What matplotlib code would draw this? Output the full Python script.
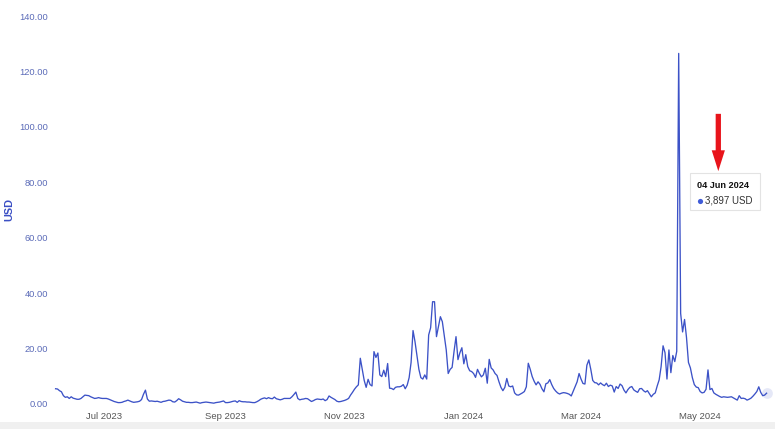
import matplotlib
matplotlib.use("Agg")
import matplotlib.pyplot as plt
import matplotlib.dates as mdates
from matplotlib.patches import Rectangle, FancyBboxPatch
import pandas as pd

# daily values in USD, 6 Jun 2023 .. 4 Jun 2024
jun23 = [5.5, 5.4, 4.8, 4.4, 3.0, 2.4, 2.6, 2.0, 2.6, 2.1, 1.9, 1.7, 1.7, 2.0, 2.6,
         3.2, 3.1, 3.0, 2.6, 2.3, 2.0, 2.1, 2.3, 2.1, 2.0]
jul23 = [2.0, 2.0, 1.8, 1.5, 1.2, 0.9, 0.7, 0.5, 0.5, 0.6, 0.9, 1.1, 1.4, 1.1, 0.8,
         0.6, 0.7, 0.8, 1.0, 1.6, 3.5, 5.0, 1.8, 1.0, 1.1, 1.0, 0.9, 1.0, 0.8, 0.6, 0.9]
aug23 = [1.0, 1.2, 1.4, 1.3, 0.8, 0.7, 1.2, 1.9, 1.5, 1.0, 0.8, 0.6, 0.6, 0.5, 0.5,
         0.6, 0.7, 0.5, 0.3, 0.5, 0.6, 0.7, 0.6, 0.5, 0.4, 0.3, 0.5, 0.6, 0.7, 0.9, 1.1]
sep23 = [0.5, 0.5, 0.6, 0.8, 1.0, 1.1, 0.6, 1.2, 0.9, 0.8, 0.8, 0.7, 0.7, 0.6, 0.5,
         0.5, 0.8, 1.2, 1.7, 2.0, 2.2, 1.9, 2.3, 2.0, 1.9, 2.5, 1.9, 1.7, 1.5, 1.7]
oct23 = [2.0, 2.0, 2.0, 2.0, 2.6, 3.4, 4.3, 2.0, 1.5, 1.7, 1.8, 2.0, 1.9, 1.4, 0.9,
         1.2, 1.6, 1.8, 1.7, 1.6, 1.8, 1.2, 1.6, 2.9, 2.4, 2.0, 1.6, 1.0, 0.8, 0.9, 1.1]
nov23 = [1.3, 1.6, 2.0, 3.2, 4.2, 5.3, 6.2, 6.9, 16.5, 12.5, 8.5, 6.0, 8.9, 7.0, 6.5,
         18.9, 16.8, 18.4, 10.5, 9.9, 12.2, 9.9, 14.6, 5.7, 5.6, 5.2, 6.0, 6.2, 6.2, 6.4]
dec23 = [7.0, 5.5, 6.8, 9.5, 15.0, 26.5, 22.5, 17.5, 12.5, 9.5, 9.0, 10.5, 9.0, 24.9,
         27.5, 36.9, 36.9, 24.3, 27.9, 31.5, 29.7, 24.5, 19.5, 11.0, 12.5, 13.2, 19.0,
         24.3, 16.0, 18.5, 20.3]
jan24 = [14.5, 17.8, 13.5, 12.0, 11.7, 11.0, 9.6, 12.5, 11.0, 9.8, 10.5, 12.9, 7.5,
         16.1, 13.0, 12.3, 11.0, 10.3, 8.0, 6.0, 4.8, 6.0, 9.2, 6.5, 6.2, 6.5, 4.0, 3.3,
         3.2, 3.6, 4.0]
feb24 = [4.5, 6.2, 14.7, 12.5, 9.9, 8.2, 6.9, 8.0, 7.1, 5.5, 4.4, 7.3, 7.6, 8.8, 7.0,
         5.6, 4.7, 4.0, 3.6, 3.9, 4.1, 4.0, 3.8, 3.5, 2.9, 4.6, 6.3, 8.0, 11.0]
mar24 = [9.0, 7.4, 7.2, 14.0, 15.9, 12.5, 8.5, 7.7, 7.6, 6.9, 7.6, 7.0, 6.6, 7.5, 6.3,
         6.8, 6.5, 4.3, 6.3, 5.6, 7.2, 6.6, 5.0, 4.0, 5.2, 6.0, 6.3, 5.1, 4.6, 4.2, 5.5]
apr24 = [5.6, 4.8, 4.3, 4.8, 3.7, 2.6, 3.5, 4.0, 6.5, 8.7, 13.5, 21.0, 18.5, 9.0, 19.5,
         11.3, 17.5, 15.3, 19.0, 126.5, 32.7, 26.0, 30.5, 24.0, 15.0, 13.0, 9.5, 7.0,
         6.1, 5.9]
may24 = [4.5, 4.0, 4.2, 5.3, 12.3, 5.2, 5.6, 4.0, 3.5, 3.1, 2.7, 2.4, 2.6, 2.5, 2.4,
         2.5, 2.6, 2.2, 1.8, 1.4, 3.0, 2.0, 2.1, 1.9, 1.4, 1.7, 2.1, 2.8, 3.6, 4.5, 6.2]
jun24 = [4.2, 3.0, 3.2, 3.897]

values = jun23 + jul23 + aug23 + sep23 + oct23 + nov23 + dec23 + jan24 + feb24 + mar24 + apr24 + may24 + jun24
dates = pd.date_range("2023-06-06", "2024-06-04", freq="D")

tip_date = "04 Jun 2024"
tip_value = "3,897 USD"

line_color = "#3c52c7"
plt.rcParams["font.family"] = ["Liberation Sans", "DejaVu Sans"]

fig = plt.figure(figsize=(7.75, 4.29), dpi=100, facecolor="white")
ax = fig.add_axes([0.0692, 0.0583, 0.9295, 0.9044])

ax.plot(dates, values, color=line_color, lw=0.95, clip_on=False)
# hover halo on the last point
ax.scatter([dates[-1]], [values[-1]], s=60, color=line_color, alpha=0.13, lw=0, clip_on=False)

ax.set_ylim(0, 140)
ax.set_yticks(range(0, 141, 20))
ax.yaxis.set_major_formatter(matplotlib.ticker.FormatStrFormatter("%.2f"))
ax.set_xlim(pd.Timestamp("2023-06-05"), pd.Timestamp("2024-06-07 19:00"))
ax.xaxis.set_major_locator(mdates.MonthLocator(bymonth=[1, 3, 5, 7, 9, 11]))
ax.xaxis.set_major_formatter(mdates.DateFormatter("%b %Y"))

for s in ax.spines.values():
    s.set_visible(False)
ax.tick_params(axis="y", length=0, pad=4, labelsize=6.7, labelcolor="#5b6bb8")
ax.tick_params(axis="x", length=0, pad=6, labelsize=6.8, labelcolor="#555555")

ax.set_ylabel("USD", fontsize=7.8, fontweight="bold", color="#3b4fc4")
ax.yaxis.set_label_coords(-0.054, 0.5)

# tooltip box
box = FancyBboxPatch((0.8835, 0.50), 0.097, 0.095, boxstyle="square,pad=0",
                     transform=ax.transAxes, facecolor="white", edgecolor="#e3e3e3",
                     lw=0.8, clip_on=False, zorder=5)
ax.add_patch(box)
ax.text(0.9296, 0.562, tip_date, transform=ax.transAxes, ha="center", va="center",
        fontsize=6.6, fontweight="bold", color="#111111", zorder=6)
ax.scatter([0.8968], [0.524], s=14, color="#3f5bd8", lw=0, transform=ax.transAxes,
           zorder=6, clip_on=False)
ax.text(0.9045, 0.524, tip_value, transform=ax.transAxes, ha="left", va="center",
        fontsize=7, color="#333333", zorder=6)

# red arrow above the tooltip
ax.annotate("", xy=(0.9227, 0.593), xytext=(0.9227, 0.755), xycoords="axes fraction",
            arrowprops=dict(arrowstyle="simple,head_length=1.5,head_width=0.95,tail_width=0.38",
                            color="#e8141b", lw=0, mutation_scale=10), zorder=7)

# grey strip at the bottom of the screenshot
fig.patches.append(Rectangle((0, 0), 1, 7 / 429, transform=fig.transFigure,
                             facecolor="#f0f0f0", edgecolor="none"))

fig.savefig("out.png", dpi=100, facecolor="white")
